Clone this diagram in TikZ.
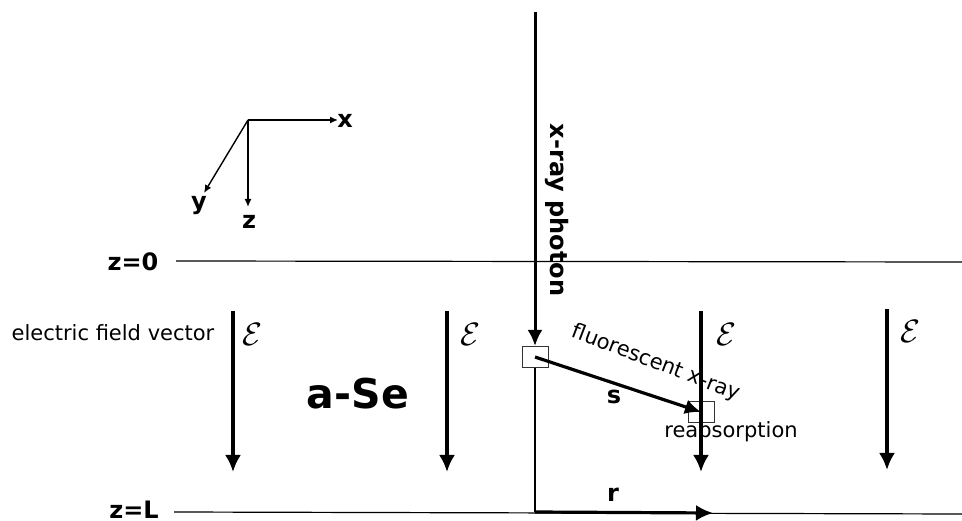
\documentclass[tikz,border=0pt]{standalone}
\usepackage{fontspec}
\setmainfont{DejaVu Sans}
\usetikzlibrary{arrows.meta}
\begin{document}
\begin{tikzpicture}[x=1pt,y=-1pt,
  thin line/.style={line width=1.2pt},
  thick arrow/.style={line width=3.2pt,-{Latex[length=17pt,width=16pt]}},
  axis arrow/.style={line width=1.4pt,-{Latex[length=8pt,width=7pt]}},
  lbl/.style={font=\fontsize{21}{25}\selectfont, inner sep=0pt},
  blbl/.style={font=\fontsize{24}{28}\selectfont\bfseries, inner sep=0pt},
  efield/.style={font=\fontsize{24.88}{30}\selectfont, inner sep=0pt, scale=1.3},
  sbox/.style={draw=black!80, line width=1pt, minimum width=26pt, minimum height=21pt, inner sep=0pt}]
\useasboundingbox (0,0) rectangle (962,521);
% axes
\coordinate (O) at (248,120);
\coordinate (ax) at (338,120);
\coordinate (az) at (248,207);
\coordinate (ay) at (204,193);
\draw[axis arrow] (O) -- (ax);
\draw[axis arrow] (O) -- (az);
\draw[axis arrow] (O) -- (ay);
\node[blbl] (lx) at (345,121) {x};
\node[blbl] (lz) at (249,222) {z};
\node[blbl] (ly) at (199,206) {y};
% surfaces
\coordinate (s0a) at (176,261);
\coordinate (s0b) at (962,262);
\coordinate (sLa) at (174,512);
\coordinate (sLb) at (962,514);
\draw[thin line] (s0a) -- (s0b);
\draw[thin line] (sLa) -- (sLb);
\node[blbl] (z0) at (133,262) {z=0};
\node[blbl] (zL) at (134,510) {z=L};
% boxes
\node[sbox] (b1) at (535,357) {};
\node[sbox] (b2) at (701,412) {};
% x-ray photon
\coordinate (xtop) at (535,12);
\draw[line width=3pt,-{Latex[length=16pt,width=15pt]}] (xtop) -- (b1.north);
\node[blbl, rotate=-90] (xl) at (557,210) {x-ray photon};
% r
\coordinate (rb) at (535,512);
\coordinate (re) at (713,513);
\draw[thin line] (b1.south) -- (rb);
\draw[thick arrow] (rb) -- (re);
\node[blbl] (rl) at (613,495) {r};
% s
\draw[line width=3.2pt,-{Latex[length=16pt,width=15pt]}] (b1.center) -- (b2.center);
\node[blbl] (sl) at (614,397) {s};
\node[lbl, rotate=-21] (fl) at (656,363) {fluorescent x-ray};
\node[lbl] (ra) at (731,432) {reabsorption};
% field arrows
\foreach \i/\x/\ya/\yb/\lx/\ly in {1/233/311/472/252/334, 2/447/311/472/470/334, 3/701/311/472/726/334, 4/887/309/470/910/331}{
  \coordinate (e\i a) at (\x,\ya);
  \coordinate (e\i b) at (\x,\yb);
  \draw[thick arrow] (e\i a) -- (e\i b);
  \node[efield] (el\i) at (\lx,\ly) {$\mathcal{E}$};
}
\node[lbl] (efv) at (113,333) {electric field vector};
\node[font=\fontsize{41}{46}\selectfont\bfseries, inner sep=0pt] (ase) at (358,394) {a-Se};
\end{tikzpicture}
\end{document}
